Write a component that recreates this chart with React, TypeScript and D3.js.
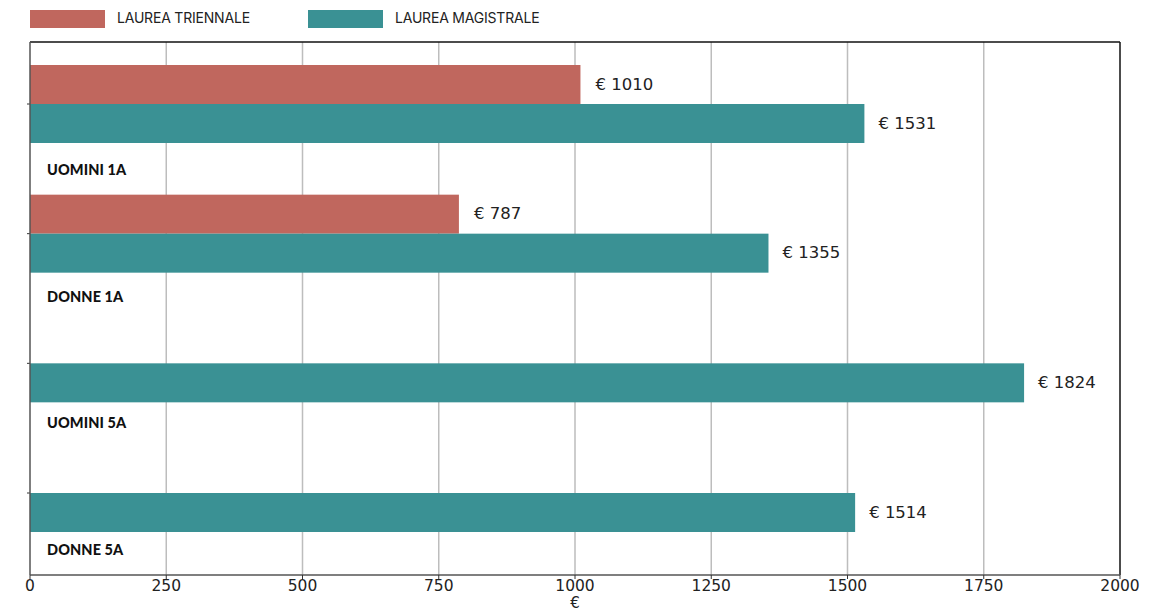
import React from "react";
import * as d3 from "d3";

const categories = ["UOMINI 1A", "DONNE 1A", "UOMINI 5A", "DONNE 5A"];
const triennale: (number | null)[] = [1010, 787, null, null];
const magistrale: number[] = [1531, 1355, 1824, 1514];
const xTicks = [0, 250, 500, 750, 1000, 1250, 1500, 1750, 2000];
const seriesNames = ["LAUREA TRIENNALE", "LAUREA MAGISTRALE"];
const colors = ["#C0675E", "#3A9194"];

export default function App() {
  const W = 1157, H = 612;
  const left = 30, right = 1120, top = 42, bottom = 575;
  const x = d3.scaleLinear().domain([0, 2000]).range([left, right]);
  const y = d3.scalePoint<string>().domain(categories).range([104, 493]);
  const yLabel = d3.scalePoint<string>().domain(categories).range([175, 555]);
  const barH = 39;

  return (
    <svg width={W} height={H} style={{ position: "absolute", left: 0, top: 0 }}>
      <rect x={0} y={0} width={W} height={H} fill="#fff" />
      {/* legend */}
      {seriesNames.map((s, i) => (
        <g key={s}>
          <rect x={30 + i * 278} y={10} width={75} height={18} fill={colors[i]} />
          <text x={117 + i * 278} y={23} fontFamily="Inter, 'Noto Sans', sans-serif" fontSize={14} letterSpacing={-0.2} fill="#222">{s}</text>
        </g>
      ))}
      {/* grid */}
      {xTicks.slice(1, -1).map((t) => (
        <line key={t} x1={x(t)} x2={x(t)} y1={top} y2={bottom} stroke="#bdbdbd" strokeWidth={1.5} />
      ))}
      {/* bars */}
      {categories.map((c, i) => {
        const cy = y(c)!;
        const tv = triennale[i];
        const mv = magistrale[i];
        return (
          <g key={c}>
            {tv != null && (
              <>
                <rect x={x(0)} y={cy - barH} width={x(tv) - x(0)} height={barH} fill={colors[0]} />
                <text x={x(tv) + 15} y={cy - barH / 2 + 5} fontFamily="'DejaVu Sans', sans-serif" fontSize={16.5} fill="#222">€ {tv}</text>
              </>
            )}
            <rect x={x(0)} y={cy} width={x(mv) - x(0)} height={barH} fill={colors[1]} />
            <text x={x(mv) + 14} y={cy + barH / 2 + 5} fontFamily="'DejaVu Sans', sans-serif" fontSize={16.5} fill="#222">€ {mv}</text>
            <text x={47} y={yLabel(c)!} fontFamily="Lato, sans-serif" fontWeight={900} fontSize={14.5} letterSpacing={0.1} fill="#111">{c}</text>
            <line x1={left - 3} x2={left} y1={cy} y2={cy} stroke="#333" strokeWidth={1} />
          </g>
        );
      })}
      {/* frame */}
      <line x1={left} x2={right} y1={top} y2={top} stroke="#111" strokeWidth={1.5} />
      <line x1={right} x2={right} y1={top} y2={bottom} stroke="#111" strokeWidth={1.5} />
      <line x1={left} x2={left} y1={top} y2={bottom} stroke="#555" strokeWidth={1.5} />
      <line x1={left} x2={right} y1={bottom} y2={bottom} stroke="#555" strokeWidth={1.5} />
      {/* x axis */}
      {xTicks.map((t) => (
        <g key={t}>
          <line x1={x(t)} x2={x(t)} y1={bottom} y2={bottom + 4} stroke="#333" />
          <text x={x(t)} y={bottom + 16} textAnchor="middle" fontFamily="'DejaVu Sans', sans-serif" fontSize={15.5} fill="#222">{t}</text>
        </g>
      ))}
      <text x={(left + right) / 2} y={608} textAnchor="middle" fontFamily="'DejaVu Sans', sans-serif" fontSize={15} fill="#222">€</text>
    </svg>
  );
}
